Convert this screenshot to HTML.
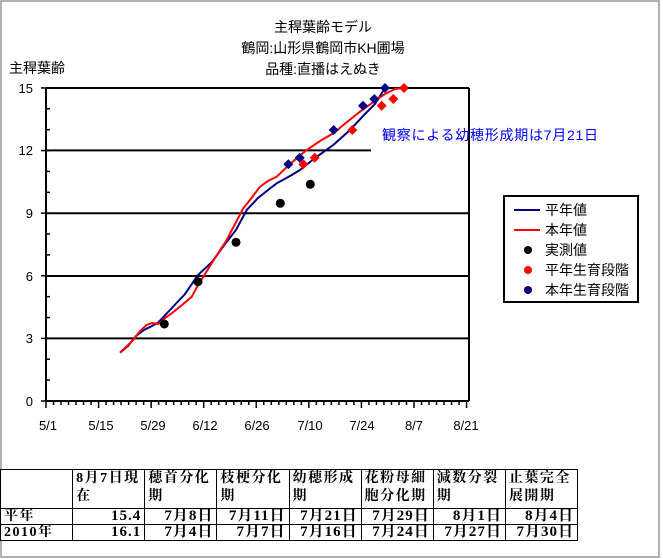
<!DOCTYPE html>
<html><head><meta charset="utf-8"><style>
body{margin:0;background:#fff;width:663px;height:559px;overflow:hidden;position:relative;font-family:"Liberation Sans","Noto Sans CJK JP",sans-serif}
svg{position:absolute;left:0;top:0}
table{position:absolute;left:0;top:469px;border-collapse:collapse;table-layout:fixed;width:578px;font-family:"Liberation Serif","Noto Serif CJK SC",serif;font-weight:bold;font-size:14px;background:#fff}
td{border:1px solid #000;padding:0 3px;line-height:18px;vertical-align:top;overflow:hidden;white-space:normal;letter-spacing:1.5px}
td.n{text-align:right;font-size:15px;letter-spacing:1px}
tr.h td{height:38px}
tr.r td{height:15px;line-height:15px}
</style></head><body>
<svg width="663" height="559" xmlns="http://www.w3.org/2000/svg" font-family="Liberation Sans, Noto Sans CJK JP, sans-serif">
<rect x="1" y="1" width="658" height="556" fill="none" stroke="#999" stroke-width="1.5"/>
<g font-size="14" text-anchor="middle" fill="#000">
<text x="323" y="32">主稈葉齢モデル</text>
<text x="323" y="53">鶴岡:山形県鶴岡市KH圃場</text>
<text x="323" y="74">品種:直播はえぬき</text>
</g>
<text x="9" y="73" font-size="14">主稈葉齢</text>
<g stroke="#000" stroke-width="2">
<line x1="46" y1="88" x2="469" y2="88"/>
<line x1="46" y1="150.4" x2="371" y2="150.4"/>
<line x1="46" y1="213.2" x2="469" y2="213.2"/>
<line x1="46" y1="276" x2="469" y2="276"/>
<line x1="46" y1="338.4" x2="469" y2="338.4"/>
<line x1="46" y1="401" x2="469" y2="401"/>
<line x1="46" y1="88" x2="46" y2="401"/>
<line x1="469" y1="88" x2="469" y2="401"/>
</g>
<g stroke="#000" stroke-width="1.5" id="ticks"></g>
<g font-size="13" text-anchor="end" fill="#000">
<text x="33" y="93">15</text><text x="33" y="155">12</text><text x="33" y="218">9</text><text x="33" y="281">6</text><text x="33" y="343">3</text><text x="33" y="406">0</text>
</g>
<g font-size="13" text-anchor="middle" fill="#000">
<text x="48" y="430">5/1</text><text x="101" y="430">5/15</text><text x="153" y="430">5/29</text><text x="205" y="430">6/12</text><text x="257" y="430">6/26</text><text x="310" y="430">7/10</text><text x="362" y="430">7/24</text><text x="414" y="430">8/7</text><text x="466" y="430">8/21</text>
</g>
<polyline fill="none" stroke="#000080" stroke-width="2" points="120,352.7 128,346 136,336 144,330 152,326 158,322.7 170,310 185,294 198,275 212,262 225,244 236,230 246.7,210 258,198 268,190 276.7,183.3 290,176 300,170 315,158 333.3,145 350,130 365,114 375,104 385,88"/>
<polyline fill="none" stroke="#ff0000" stroke-width="2" points="120,352.7 126,347 133.3,340 140,331 146.7,325 152,323 158.3,324 165,318 171.7,313.3 182,305 191.7,296.7 197,287 203.3,276.7 215,258 226.7,240 235,224 243.3,208.3 250,200 260,186.7 268,181 276.7,176.7 290,164 306.7,150 320,141 333.3,133.3 347,122 360,111.7 372,103 385,94 395,89 404,88"/>
<g fill="#000">
<circle cx="164.3" cy="324" r="4.5"/><circle cx="198" cy="281.7" r="4.5"/><circle cx="236" cy="242.3" r="4.5"/><circle cx="280.3" cy="203.3" r="4.5"/><circle cx="310.3" cy="184.3" r="4.5"/>
</g>
<g fill="#ff0000" id="rd"></g>
<g fill="#000080" id="bd"></g>
<text x="382" y="140" font-size="14" fill="#0000ff" textLength="216">観察による幼穂形成期は7月21日</text>
<rect x="504" y="196" width="134" height="106" fill="#fff" stroke="#000" stroke-width="2"/>
<line x1="514" y1="210" x2="540" y2="210" stroke="#000080" stroke-width="2"/>
<line x1="514" y1="230" x2="540" y2="230" stroke="#ff0000" stroke-width="2"/>
<circle cx="528" cy="250" r="4" fill="#000"/>
<circle cx="528" cy="270" r="4" fill="#ff0000"/>
<circle cx="528" cy="290" r="4" fill="#000080"/>
<g font-size="14" fill="#000">
<text x="545" y="215">平年値</text><text x="545" y="235">本年値</text><text x="545" y="255">実測値</text><text x="545" y="275">平年生育段階</text><text x="545" y="295">本年生育段階</text>
</g>
</svg>
<table>
<tr class="h"><td></td><td>8月7日現在</td><td>穂首分化期</td><td>枝梗分化期</td><td>幼穂形成期</td><td>花粉母細胞分化期</td><td>減数分裂期</td><td>止葉完全展開期</td></tr>
<tr class="r"><td>平年</td><td class="n">15.4</td><td class="n">7月8日</td><td class="n">7月11日</td><td class="n">7月21日</td><td class="n">7月29日</td><td class="n">8月1日</td><td class="n">8月4日</td></tr>
<tr class="r"><td>2010年</td><td class="n">16.1</td><td class="n">7月4日</td><td class="n">7月7日</td><td class="n">7月16日</td><td class="n">7月24日</td><td class="n">7月27日</td><td class="n">7月30日</td></tr>
</table>
<script>
var ns="http://www.w3.org/2000/svg",t=document.getElementById("ticks");
function ln(x1,y1,x2,y2){var l=document.createElementNS(ns,"line");l.setAttribute("x1",x1);l.setAttribute("y1",y1);l.setAttribute("x2",x2);l.setAttribute("y2",y2);t.appendChild(l);}
for(var d=0;d<=112;d+=2){var x=46+d*3.755;ln(x,401,x,d%14==0?408:405);}
for(var v=0;v<=15;v++){var y=401-v*20.87;ln(v%3==0?41:46,y,50,y);}
function dia(g,pts){var G=document.getElementById(g);pts.forEach(function(p){var q=document.createElementNS(ns,"polygon");q.setAttribute("points",(p[0])+","+(p[1]-5)+" "+(p[0]+5)+","+p[1]+" "+p[0]+","+(p[1]+5)+" "+(p[0]-5)+","+p[1]);G.appendChild(q);});}
dia("rd",[[303.3,164.3],[314.7,157.7],[352.3,130],[381.7,105.7],[393.3,99],[404,88]]);
dia("bd",[[288.3,164.3],[299.7,157.7],[333.7,130],[363,105.7],[374.3,99],[385,88]]);
</script>
</body></html>
